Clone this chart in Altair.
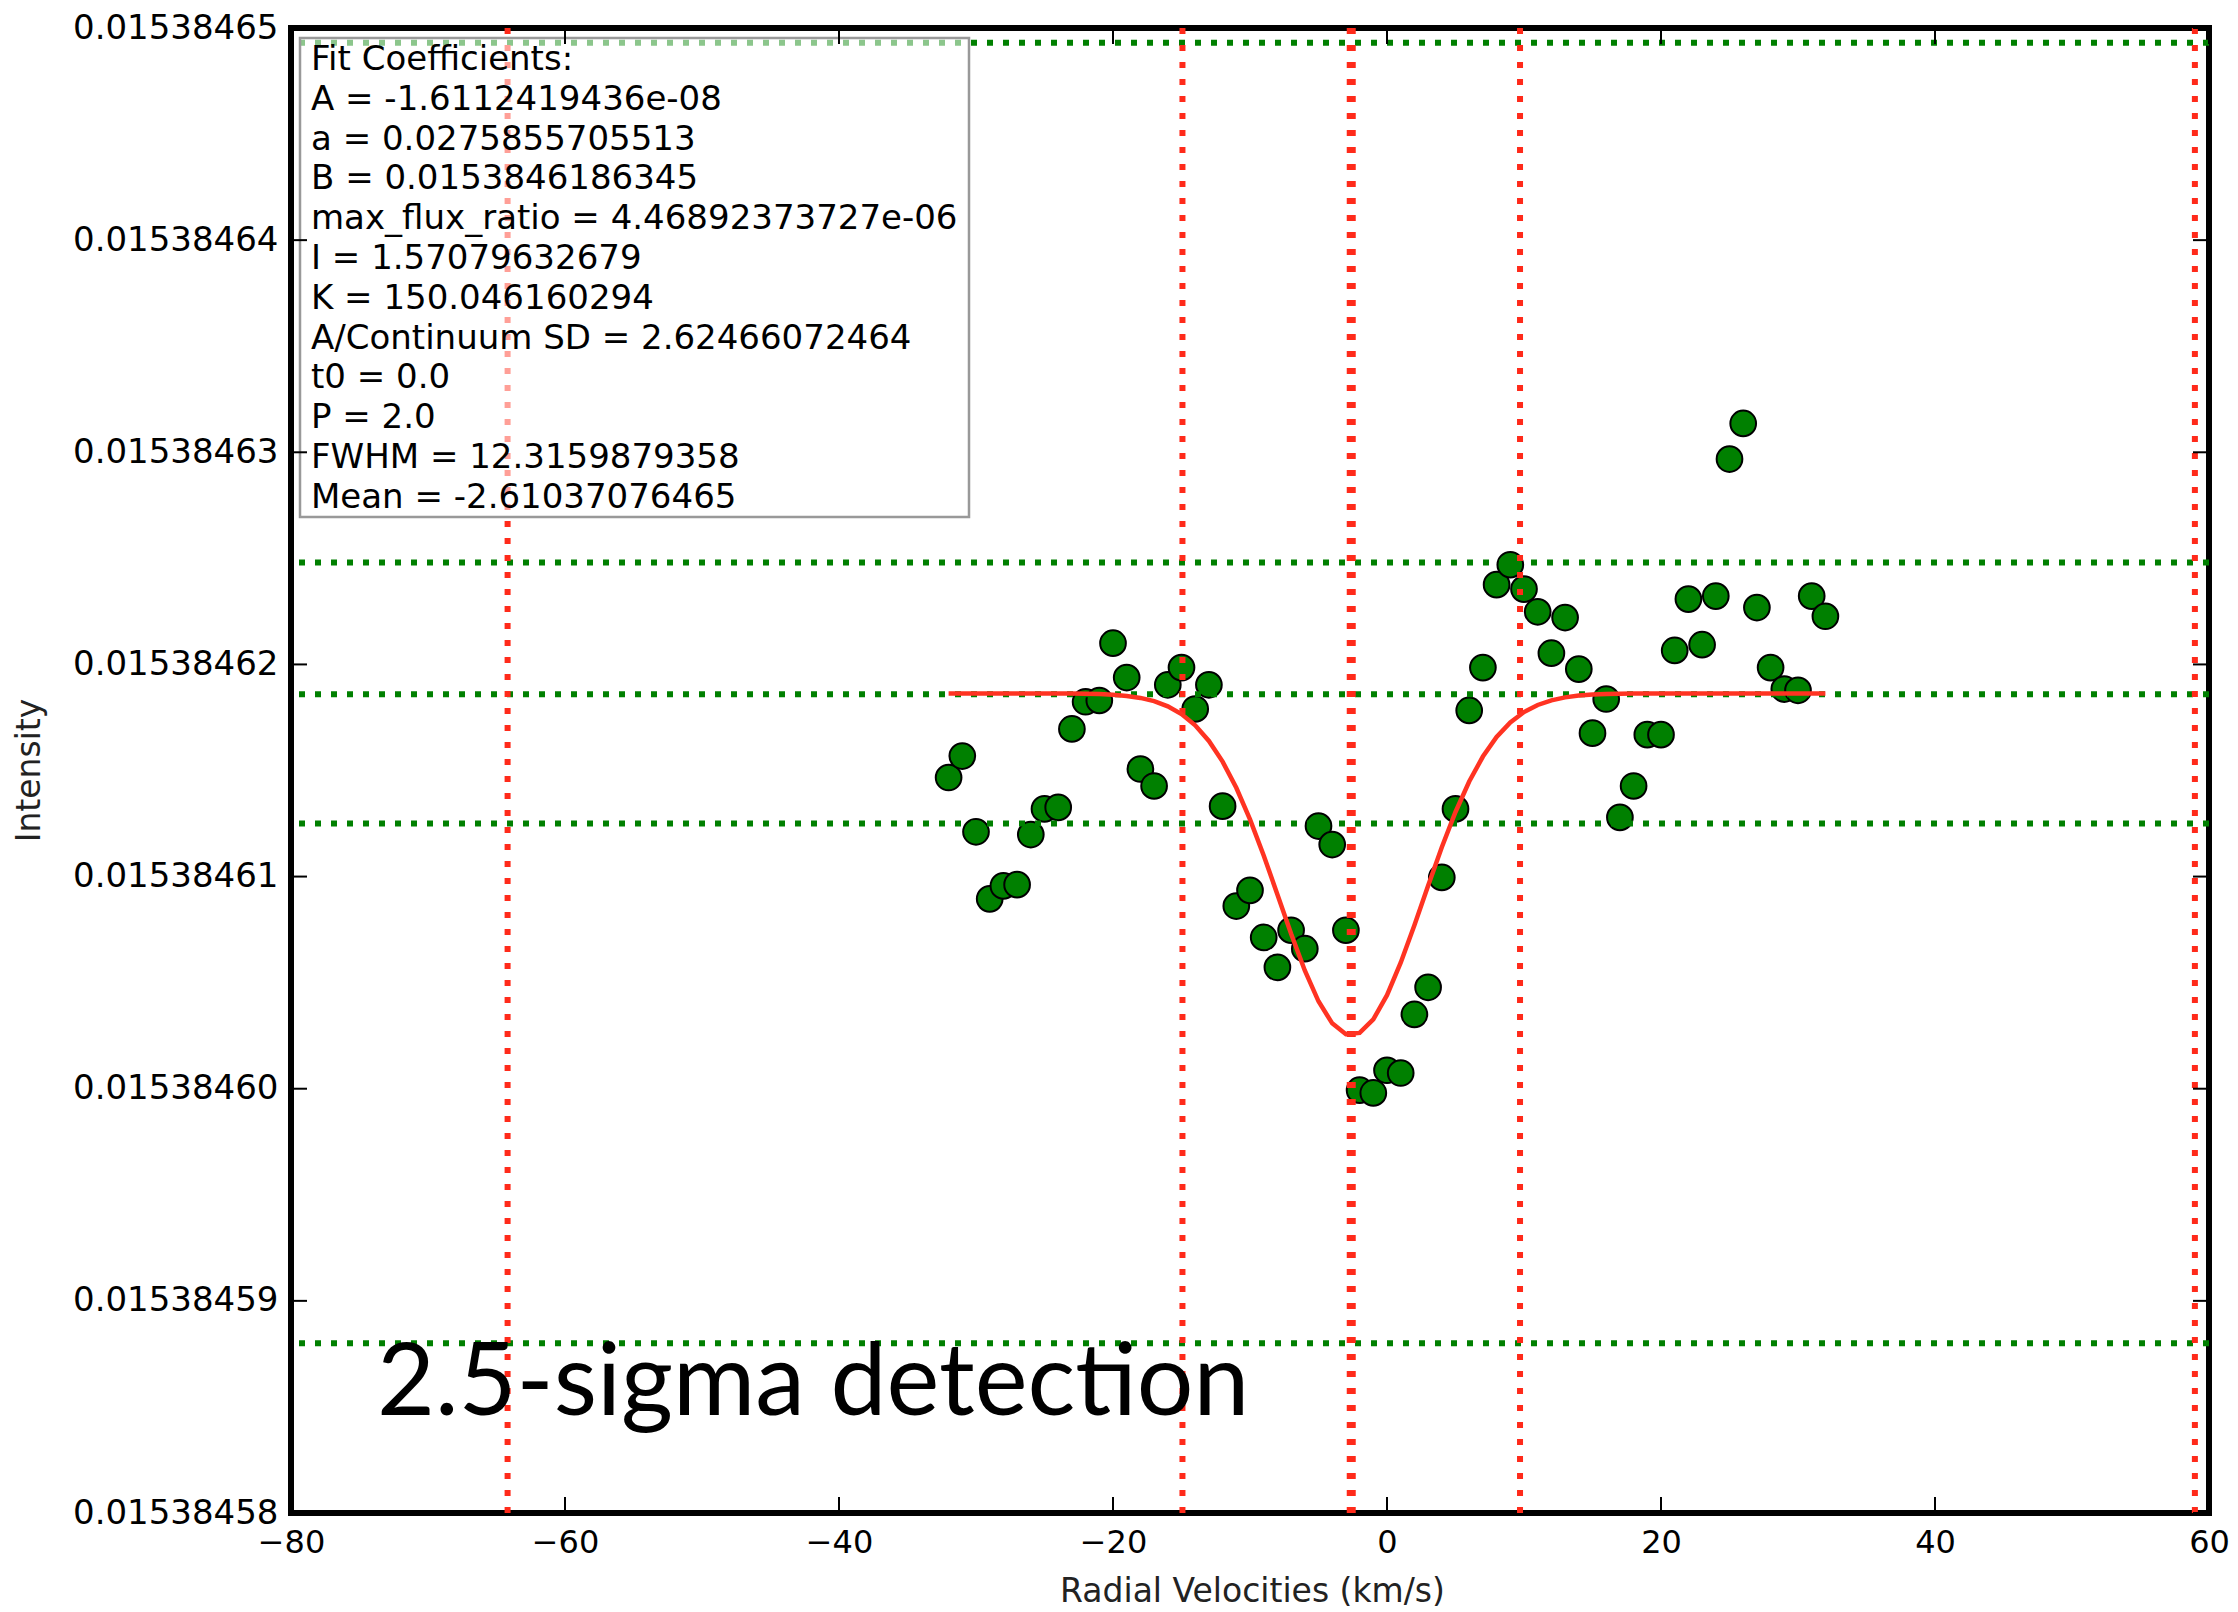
import altair as alt
import pandas as pd

# ---------------- data ----------------
vel = [-32, -31, -30, -29, -28, -27, -26, -25, -24, -23, -22, -21, -20, -19, -18, -17,
       -16, -15, -14, -13, -12, -11, -10, -9, -8, -7, -6, -5, -4, -3, -2, -1,
       0, 1, 2, 3, 4, 5, 6, 7, 8, 9, 10, 11, 12, 13, 14, 15,
       16, 17, 18, 19, 20, 21, 22, 23, 24, 25, 26, 27, 28, 29, 30, 31, 32]

intensity = [
    0.01538461467, 0.01538461568, 0.01538461211, 0.01538460895, 0.01538460956,
    0.01538460962, 0.01538461198, 0.01538461319, 0.01538461326, 0.01538461696,
    0.01538461824, 0.01538461830, 0.01538462100, 0.01538461938, 0.01538461507,
    0.01538461427, 0.01538461904, 0.01538461985, 0.01538461790, 0.01538461904,
    0.01538461332, 0.01538460861, 0.01538460935, 0.01538460713, 0.01538460572,
    0.01538460747, 0.01538460660, 0.01538461238, 0.01538461151, 0.01538460747,
    0.01538459993, 0.01538459980, 0.01538460087, 0.01538460074, 0.01538460350,
    0.01538460478, 0.01538460996, 0.01538461319, 0.01538461783, 0.01538461985,
    0.01538462376, 0.01538462470, 0.01538462355, 0.01538462248, 0.01538462053,
    0.01538462221, 0.01538461978, 0.01538461676, 0.01538461837, 0.01538461279,
    0.01538461427, 0.01538461669, 0.01538461669, 0.01538462066, 0.01538462308,
    0.01538462093, 0.01538462322, 0.01538462968, 0.01538463136, 0.01538462268,
    0.01538461985, 0.01538461884, 0.01538461878, 0.01538462322, 0.01538462227,
]

fit_intensity = [
    0.015384618635, 0.015384618635, 0.015384618635, 0.015384618635, 0.015384618635,
    0.015384618635, 0.015384618635, 0.015384618635, 0.015384618630, 0.015384618626,
    0.015384618618, 0.015384618601, 0.015384618571, 0.015384618516, 0.015384618422,
    0.015384618269, 0.015384618027, 0.015384617661, 0.015384617131, 0.015384616395,
    0.015384615420, 0.015384614186, 0.015384612697, 0.015384610997, 0.015384609160,
    0.015384607306, 0.015384605576, 0.015384604121, 0.015384603081, 0.015384602567,
    0.015384602632, 0.015384603268, 0.015384604409, 0.015384605938, 0.015384607709,
    0.015384609571, 0.015384611386, 0.015384613045, 0.015384614480, 0.015384615657,
    0.015384616577, 0.015384617263, 0.015384617754, 0.015384618089, 0.015384618309,
    0.015384618447, 0.015384618530, 0.015384618579, 0.015384618606, 0.015384618620,
    0.015384618628, 0.015384618632, 0.015384618634, 0.015384618634, 0.015384618634,
    0.015384618634, 0.015384618634, 0.015384618634, 0.015384618634, 0.015384618634,
    0.015384618634, 0.015384618634, 0.015384618634, 0.015384618634, 0.015384618634,
]

sigma_levels = [0.0153846493, 0.0153846248, 0.0153846186, 0.0153846125, 0.0153845880]
fwhm_bounds = [-64.19, -14.93, 9.71, 58.97]
mean_vel = [-2.61]

x_ticks = [-80, -60, -40, -20, 0, 20, 40, 60]
y_ticks = [0.01538458, 0.01538459, 0.01538460, 0.01538461,
           0.01538462, 0.01538463, 0.01538464, 0.01538465]

coef_lines = [
    "Fit Coefficients:",
    "A = -1.6112419436e-08",
    "a = 0.0275855705513",
    "B = 0.0153846186345",
    "max_flux_ratio = 4.46892373727e-06",
    "I = 1.57079632679",
    "K = 150.046160294",
    "A/Continuum SD = 2.62466072464",
    "t0 = 0.0",
    "P = 2.0",
    "FWHM = 12.3159879358",
    "Mean = -2.61037076465",
]
big_label = "2.5-sigma detection"

# ---------------- layout ----------------
W, H = 1918, 1485
FONT = "DejaVu Sans"

xscale = alt.Scale(domain=[-80, 60], nice=False, zero=False)
yscale = alt.Scale(domain=[0.01538458, 0.01538465], nice=False, zero=False)

xaxis = alt.Axis(values=x_ticks, title="Radial Velocities (km/s)", grid=False, ticks=False,
                 domain=False, labelFont=FONT, labelFontSize=32, labelPadding=14,
                 labelColor="black", labelFlush=False, labelOverlap=False, labelLimit=0,
                 titleFont=FONT, titleFontSize=33, titleFontWeight="normal",
                 titleColor="#222222", titleX=961, titleY=78, titleBaseline="middle",
                 titleAlign="center")
yaxis = alt.Axis(values=y_ticks, format=".8f", title="Intensity", grid=False, ticks=False,
                 domain=False, labelFont=FONT, labelFontSize=34, labelPadding=13,
                 labelColor="black", labelFlush=False, labelOverlap=False, labelLimit=0,
                 titleFont=FONT, titleFontSize=33, titleFontWeight="normal",
                 titleColor="#222222", titleAngle=270, titleX=-262, titleY=742,
                 titleBaseline="middle", titleAlign="center")


def X():
    return alt.X("vel:Q", scale=xscale, axis=xaxis)


def Y():
    return alt.Y("val:Q", scale=yscale, axis=yaxis)


pts = pd.DataFrame({"vel": vel, "val": intensity})
fit = pd.DataFrame({"vel": vel, "val": fit_intensity})
hl = pd.DataFrame({"val": sigma_levels})
vl = pd.DataFrame({"vel": fwhm_bounds})
ml = pd.DataFrame({"vel": mean_vel})
xt = pd.DataFrame({"vel": x_ticks})
yt = pd.DataFrame({"val": y_ticks})
one = pd.DataFrame({"k": [0]})

points = alt.Chart(pts).mark_circle(size=660, fill="#008000", stroke="black",
                                    strokeWidth=2, opacity=1).encode(x=X(), y=Y())

hlines = alt.Chart(hl).mark_rule(color="#008000", strokeWidth=6,
                                 strokeDash=[6, 10]).encode(y=Y())
vlines = alt.Chart(vl).mark_rule(color="#ff2a1a", strokeWidth=6,
                                 strokeDash=[6, 11]).encode(x=X())
mline = alt.Chart(ml).mark_rule(color="#ff2a1a", strokeWidth=9,
                                strokeDash=[6, 11]).encode(x=X())
curve = alt.Chart(fit).mark_line(color="#ff3322", strokeWidth=4.5).encode(x=X(), y=Y())

box = alt.Chart(one).mark_rect(fill="white", fillOpacity=0.55, stroke="#999999",
                               strokeWidth=2.5).encode(
    x=alt.value(9), x2=alt.value(678), y=alt.value(10), y2=alt.value(489))
coef = alt.Chart(one).mark_text(text=coef_lines, align="left", baseline="top",
                                lineHeight=39.8, font=FONT, fontSize=34,
                                color="black").encode(x=alt.value(20), y=alt.value(15))
label = alt.Chart(one).mark_text(text=big_label, align="left", baseline="alphabetic",
                                 font="Lato", fontSize=100, color="black").encode(
    x=alt.value(86), y=alt.value(1387))

tb = alt.Chart(xt).mark_rule(color="black", strokeWidth=2).encode(
    x=X(), y=alt.value(H), y2=alt.value(H - 16))
tt = alt.Chart(xt).mark_rule(color="black", strokeWidth=2).encode(
    x=X(), y=alt.value(0), y2=alt.value(16))
tl = alt.Chart(yt).mark_rule(color="black", strokeWidth=2).encode(
    y=Y(), x=alt.value(0), x2=alt.value(16))
tr = alt.Chart(yt).mark_rule(color="black", strokeWidth=2).encode(
    y=Y(), x=alt.value(W), x2=alt.value(W - 16))

chart = alt.layer(points, hlines, vlines, mline, curve, box, coef, label,
                  tb, tt, tl, tr).properties(
    width=W, height=H,
    autosize=alt.AutoSizeParams(type="none"),
    padding={"left": 291, "top": 28, "right": 29, "bottom": 99},
    background="white",
).configure_view(stroke="black", strokeWidth=6)

chart.save("out.html", embed_options={"renderer": "svg", "actions": False})
